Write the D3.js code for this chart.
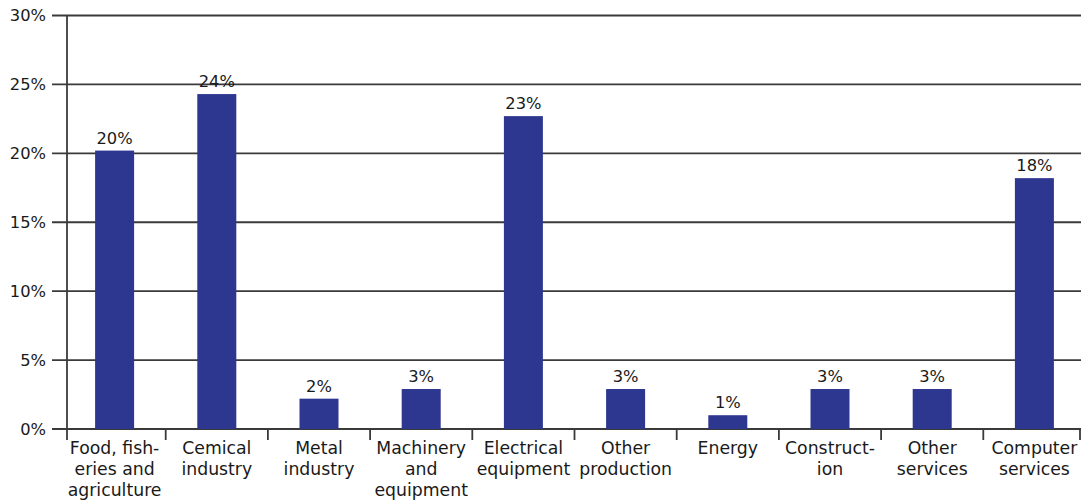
<!DOCTYPE html>
<html>
<head>
<meta charset="utf-8">
<script src="https://cdn.jsdelivr.net/npm/d3@7"></script>
<style>
  html, body { margin: 0; padding: 0; background: #fff; }
  svg { display: block; }
  text { font-family: "DejaVu Sans", Verdana, sans-serif; fill: #1a1a1a; }
</style>
</head>
<body>
<svg id="chart" width="1081" height="501"></svg>
<script>
// Share of projects by sector (%)
const categories = [
  "Food, fish-|eries and|agriculture",
  "Cemical|industry",
  "Metal|industry",
  "Machinery|and|equipment",
  "Electrical|equipment",
  "Other|production",
  "Energy",
  "Construct-|ion",
  "Other|services",
  "Computer|services"
];
const values = [20.2, 24.3, 2.2, 2.9, 22.7, 2.9, 1.0, 2.9, 2.9, 18.2];
const yTicks = [0, 5, 10, 15, 20, 25, 30];

const svg = d3.select("#chart");
const width = 1081;
const axisX = 67, bandStart = 63.5, bandEnd = 1085.5, plotTop = 15.5, plotBottom = 429;
const numSize = 16.3, catSize = 17.3;
const barColor = "#2e3790";
const lineColor = "#3a3a3a";

const x = d3.scaleBand().domain(d3.range(categories.length)).range([bandStart, bandEnd]).padding(0);
const y = d3.scaleLinear().domain([0, 30]).range([plotBottom, plotTop]);
const barW = 39;
const cx = i => x(i) + x.bandwidth() / 2;

// Horizontal gridlines with left tick stubs
svg.append("g")
  .selectAll("line")
  .data(yTicks)
  .join("line")
  .attr("x1", axisX - 15)
  .attr("x2", width)
  .attr("y1", d => y(d))
  .attr("y2", d => y(d))
  .attr("stroke", lineColor)
  .attr("stroke-width", 1.8);

// Y tick labels
svg.append("g")
  .selectAll("text")
  .data(yTicks)
  .join("text")
  .attr("x", axisX - 21)
  .attr("y", d => y(d))
  .attr("dy", "0.36em")
  .attr("text-anchor", "end")
  .attr("font-size", numSize)
  .text(d => d + "%");

// Bars
svg.append("g")
  .selectAll("rect")
  .data(values)
  .join("rect")
  .attr("x", (d, i) => cx(i) - barW / 2)
  .attr("width", barW)
  .attr("y", d => y(d))
  .attr("height", d => y(0) - y(d))
  .attr("fill", barColor);

// Value labels
svg.append("g")
  .selectAll("text")
  .data(values)
  .join("text")
  .attr("x", (d, i) => cx(i))
  .attr("y", d => y(d) - 7)
  .attr("text-anchor", "middle")
  .attr("font-size", numSize)
  .text(d => Math.round(d) + "%");

// Y axis line (extends below the baseline)
svg.append("line")
  .attr("x1", axisX).attr("x2", axisX)
  .attr("y1", plotTop).attr("y2", plotBottom + 11)
  .attr("stroke", lineColor).attr("stroke-width", 1.8);

// Category separators below the baseline (last one kept inside the canvas)
const sepX = i => Math.min(i < categories.length ? x(i) : bandEnd, width - 1);
svg.append("g")
  .selectAll("line")
  .data(d3.range(1, categories.length + 1))
  .join("line")
  .attr("x1", sepX)
  .attr("x2", sepX)
  .attr("y1", plotBottom)
  .attr("y2", plotBottom + 11)
  .attr("stroke", lineColor)
  .attr("stroke-width", 1.8);

// Category labels, broken onto several lines
const catG = svg.append("g")
  .selectAll("text")
  .data(categories)
  .join("text")
  .attr("text-anchor", "middle")
  .attr("font-size", catSize)
  .attr("transform", (d, i) => `translate(${cx(i)},${plotBottom + 25})`);

catG.selectAll("tspan")
  .data(d => d.split("|"))
  .join("tspan")
  .attr("x", 0)
  .attr("y", (d, j) => j * 21)
  .text(d => d);
</script>
</body>
</html>
